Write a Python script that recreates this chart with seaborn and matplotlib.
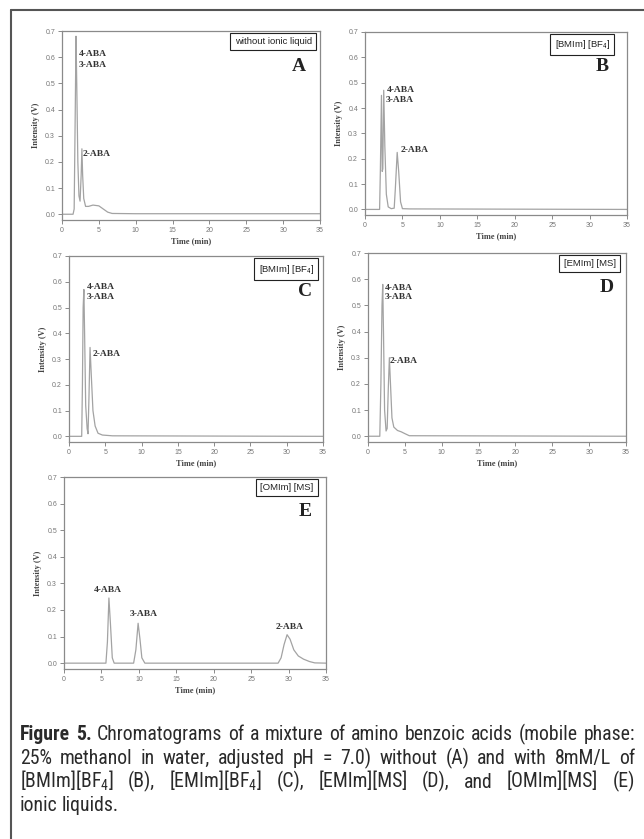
import numpy as np
import matplotlib
matplotlib.use('Agg')
import matplotlib.pyplot as plt
from matplotlib.lines import Line2D
import seaborn as sns

# chromatogram traces: time (min) / intensity (V)
a_time = [0, 1.5, 1.65, 1.8, 1.9, 2.0, 2.15, 2.3, 2.45, 2.6, 2.7, 2.8, 2.95, 3.2, 3.6, 4.2, 5.0, 5.6, 6.2, 6.8, 10, 35]
a_int = [0, 0, 0.02, 0.4, 0.68, 0.5, 0.2, 0.07, 0.05, 0.15, 0.25, 0.15, 0.06, 0.03, 0.03, 0.035, 0.032, 0.02, 0.008, 0.003, 0.002, 0.002]

b_time = [0, 1.95, 2.05, 2.2, 2.3, 2.38, 2.5, 2.65, 2.85, 3.1, 3.5, 3.9, 4.05, 4.3, 4.5, 4.75, 5.0, 6.0, 35]
b_int = [0, 0, 0.15, 0.45, 0.15, 0.16, 0.47, 0.25, 0.06, 0.01, 0.003, 0.005, 0.08, 0.225, 0.15, 0.03, 0.003, 0.002, 0]

c_time = [0, 1.75, 1.85, 1.95, 2.05, 2.15, 2.3, 2.5, 2.62, 2.75, 2.9, 3.05, 3.3, 3.6, 4.0, 4.6, 6, 35]
c_int = [0, 0, 0.2, 0.5, 0.57, 0.4, 0.12, 0.03, 0.01, 0.15, 0.345, 0.25, 0.1, 0.04, 0.012, 0.005, 0.002, 0]

d_time = [0, 1.6, 1.75, 1.9, 2.0, 2.1, 2.25, 2.45, 2.6, 2.75, 2.9, 3.05, 3.25, 3.5, 4.0, 4.5, 5.0, 5.6, 35]
d_int = [0, 0, 0.2, 0.5, 0.58, 0.4, 0.1, 0.02, 0.03, 0.18, 0.3, 0.2, 0.07, 0.035, 0.022, 0.017, 0.01, 0.002, 0]

e_time = [0, 5.6, 5.8, 6.0, 6.2, 6.45, 6.7, 9.3, 9.6, 9.9, 10.15, 10.4, 10.8,
          28.6, 29.0, 29.4, 29.8, 30.2, 30.7, 31.3, 32.0, 32.8, 33.5, 35]
e_int = [0, 0, 0.08, 0.245, 0.15, 0.02, 0, 0, 0.05, 0.15, 0.09, 0.02, 0,
         0, 0.02, 0.07, 0.107, 0.09, 0.05, 0.027, 0.015, 0.006, 0.001, 0]

panel_letters = ['A', 'B', 'C', 'D', 'E']
box_labels = ['without ionic liquid', '[BMIm] [BF$_4$]', '[BMIm] [BF$_4$]', '[EMIm] [MS]', '[OMIm] [MS]']

# peak labels: (text, time, intensity, alignment)
a_peaks = [('4-ABA', 2.3, 0.614, 'left'), ('3-ABA', 2.3, 0.57, 'left'), ('2-ABA', 2.8, 0.232, 'left')]
b_peaks = [('4-ABA', 2.9, 0.473, 'left'), ('3-ABA', 2.75, 0.431, 'left'), ('2-ABA', 4.8, 0.235, 'left')]
c_peaks = [('4-ABA', 2.5, 0.578, 'left'), ('3-ABA', 2.5, 0.54, 'left'), ('2-ABA', 3.25, 0.319, 'left')]
d_peaks = [('4-ABA', 2.25, 0.568, 'left'), ('3-ABA', 2.25, 0.532, 'left'), ('2-ABA', 2.9, 0.289, 'left')]
e_peaks = [('4-ABA', 5.9, 0.275, 'center'), ('3-ABA', 10.6, 0.184, 'center'), ('2-ABA', 30.1, 0.137, 'center')]

x_ticks = [0, 5, 10, 15, 20, 25, 30, 35]
y_ticks = [0.0, 0.1, 0.2, 0.3, 0.4, 0.5, 0.6, 0.7]

caption_lines = [
    'Chromatograms of a mixture of amino benzoic acids (mobile phase:',
    '25% methanol in water, adjusted pH = 7.0) without (A) and with 8mM/L of',
    '[BMIm][BF$_4$] (B), [EMIm][BF$_4$] (C), [EMIm][MS] (D), and [OMIm][MS] (E)',
    'ionic liquids.',
]

sns.set_style('ticks')
plt.rcParams['font.family'] = ['Liberation Sans', 'DejaVu Sans']
plt.rcParams['mathtext.fontset'] = 'custom'
plt.rcParams['mathtext.rm'] = 'Roboto Condensed'

W, H = 644, 839
fig = plt.figure(figsize=(W / 100, H / 100), dpi=100)
fig.patch.set_facecolor('white')

# axes boxes in pixels: left, right, top, bottom
boxes = [(62, 320, 31, 220), (365, 627, 32, 215), (69, 323, 256, 442),
         (368, 626, 253, 442), (64, 326, 477, 669)]
letter_pos = [(0.946, 0.81), (0.93, 0.81), (0.957, 0.81), (0.953, 0.82), (0.947, 0.82)]
box_pos = [(1.0, 0.995), (0.966, 0.995), (0.996, 0.99), (0.992, 0.995), (0.985, 0.995)]

traces = [(a_time, a_int), (b_time, b_int), (c_time, c_int), (d_time, d_int), (e_time, e_int)]
peaks = [a_peaks, b_peaks, c_peaks, d_peaks, e_peaks]

serif = ['Liberation Serif', 'DejaVu Serif']
axis_col = '#8a8a8a'

for i, (l, r, t, b) in enumerate(boxes):
    ax = fig.add_axes([l / W, 1 - b / H, (r - l) / W, (b - t) / H])
    tt, yy = traces[i]
    sns.lineplot(x=tt, y=yy, ax=ax, sort=False, estimator=None, color='#a3a3a3', lw=0.9)
    ax.set_xlim(0, 35)
    ax.set_ylim(-0.022, 0.7)
    ax.set_xticks(x_ticks)
    ax.set_yticks(y_ticks)
    ax.set_yticklabels([f'{v:.1f}' for v in y_ticks])
    ax.tick_params(direction='out', length=3, width=0.7, color=axis_col,
                   labelsize=5, labelcolor='#777777', pad=2)
    for sp in ax.spines.values():
        sp.set_color(axis_col)
        sp.set_linewidth(0.9)
    ax.set_xlabel('Time (min)', family=serif, fontweight='bold', fontsize=6, color='#444444', labelpad=2)
    ax.set_ylabel('Intensity (V)', family=serif, fontweight='bold', fontsize=6, color='#444444', labelpad=4)

    for txt, px, py, ha in peaks[i]:
        ax.text(px, py, txt, family=serif, fontweight='bold', fontsize=6.8,
                color='#333333', ha=ha, va='center')

    lx, ly = letter_pos[i]
    ax.text(lx, ly, panel_letters[i], transform=ax.transAxes, family=serif,
            fontweight='bold', fontsize=14, color='#222222', ha='right', va='center')

    bx, by = box_pos[i]
    ax.annotate(box_labels[i], xy=(bx, by), xycoords='axes fraction',
                xytext=(-6, -3.5), textcoords='offset points', ha='right', va='top',
                fontsize=6.8, color='#222222', family=['Liberation Sans', 'DejaVu Sans'],
                bbox=dict(boxstyle='square,pad=0.45', fc='white', ec='#222222', lw=0.8))

# outer frame (left and top edges)
fig.add_artist(Line2D([11 / W, 11 / W], [0, 1 - 10 / H], transform=fig.transFigure, color='#555555', lw=1.5))
fig.add_artist(Line2D([11 / W, 1], [1 - 10 / H, 1 - 10 / H], transform=fig.transFigure, color='#555555', lw=1.5))

# caption, justified line by line
cap_font = ['Roboto Condensed', 'Open Sans Condensed', 'Liberation Sans', 'DejaVu Sans']
cap_size = 14.2
cap_words = [[(w, 'normal') for w in line.split(' ')] for line in caption_lines]
cap_words[0] = [('Figure', 'bold'), ('5.', 'bold')] + cap_words[0]
cap_base = [740.5, 764, 787.5, 811]
renderer = fig.canvas.get_renderer()
x0, x1 = 20 / W, 635 / W
for k, words in enumerate(cap_words):
    arts, widths = [], []
    for s, wt in words:
        a = fig.text(0, 1 - cap_base[k] / H, s, fontsize=cap_size, fontweight=wt,
                     family=cap_font, color='#2a2a2a', va='baseline', ha='left')
        widths.append(a.get_window_extent(renderer).width / W)
        arts.append(a)
    if k < len(cap_words) - 1:
        gap = (x1 - x0 - sum(widths)) / (len(words) - 1)
    else:
        gap = 0.22 * cap_size * 100 / 72 / W
    x = x0
    for a, wd in zip(arts, widths):
        a.set_x(x)
        x += wd + gap

fig.savefig('out.png', dpi=100)
